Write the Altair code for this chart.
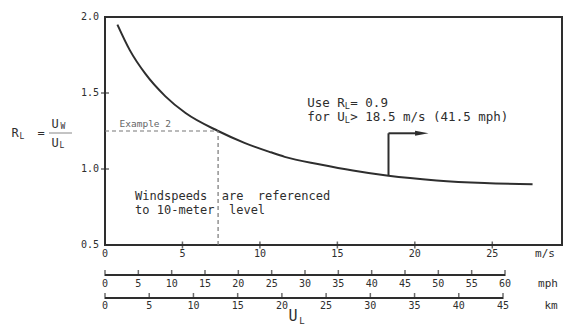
import altair as alt
import pandas as pd

# ---------------- data ----------------
wind_ms = [0.8, 1.6, 2.6, 3.9, 5.2, 7.3, 9.0, 10.7, 11.6, 13.9, 16.0, 18.3, 21.4, 24.5, 27.6]
ratio_rl = [1.95, 1.782, 1.627, 1.478, 1.368, 1.25, 1.172, 1.11, 1.08, 1.03, 0.99, 0.955, 0.925, 0.908, 0.90]

ms_ticks = [0, 5, 10, 15, 20, 25]
rl_ticks = [0.5, 1.0, 1.5, 2.0]
mph_ticks = [0, 5, 10, 15, 20, 25, 30, 35, 40, 45, 50, 55, 60]
km_ticks = [0, 5, 10, 15, 20, 25, 30, 35, 40, 45]

example_ms = 7.3
example_rl = 1.25
cutoff_ms = 18.3
cutoff_rl_base = 0.955
arrow_rl = 1.235
arrow_end_ms = 20.2
arrow_head_ms = 20.45

ms_domain = [0, 29.5]
rl_domain = [0.5, 2.0]
mph_domain = [0, 68.55]
km_domain = [0, 51.67]

mono = "DejaVu Sans Mono"
ink = "#2e2e2e"

xs = alt.Scale(domain=ms_domain, nice=False, zero=False)
ys = alt.Scale(domain=rl_domain, nice=False, zero=False)


def xe(field="u"):
    return alt.X(f"{field}:Q", scale=xs, axis=None)


def ye(field="r"):
    return alt.Y(f"{field}:Q", scale=ys, axis=None)


def label(text, u, r, size, dx=0, dy=0, align="left", color=ink):
    return alt.Chart(pd.DataFrame({"u": [u], "r": [r], "t": [text]})).mark_text(
        font=mono, fontSize=size, dx=dx, dy=dy, align=align, baseline="middle", color=color
    ).encode(x=xe(), y=ye(), text="t:N")


def plabel(text, px, py, size, align="center", color=ink):
    return alt.Chart(pd.DataFrame({"t": [text]})).mark_text(
        font=mono, fontSize=size, align=align, baseline="middle", color=color
    ).encode(x=alt.value(px), y=alt.value(py), text="t:N")


# ---------------- main curve ----------------
curve = alt.Chart(pd.DataFrame({"u": wind_ms, "r": ratio_rl})).mark_line(
    interpolate="monotone", strokeWidth=2, color=ink
).encode(x=xe(), y=ye())

# axis tick labels (drawn from the tick arrays)
xlab = alt.Chart(pd.DataFrame({"u": ms_ticks})).mark_text(
    font=mono, fontSize=10, color=ink, baseline="middle"
).encode(x=xe(), y=alt.value(237), text="u:Q")

ylab = alt.Chart(pd.DataFrame({"r": rl_ticks})).mark_text(
    font=mono, fontSize=10, color=ink, baseline="middle", align="right"
).encode(x=alt.value(-6), y=ye(), text=alt.Text("r:Q", format=".1f"))

ytick = alt.Chart(pd.DataFrame({"u": [0, 0], "r": [1.0, 1.5]})).mark_tick(
    orient="horizontal", size=8, thickness=1.5, color=ink
).encode(x=xe(), y=ye())

xtick = alt.Chart(pd.DataFrame({"u": ms_ticks[1:], "r": [0.5] * 5})).mark_tick(
    orient="vertical", size=7, thickness=1.5, color=ink
).encode(x=xe(), y=ye())

dash_h = alt.Chart(pd.DataFrame({"u": [0], "u2": [example_ms], "r": [example_rl]})).mark_rule(
    strokeDash=[4, 3], strokeWidth=1.2, color="#777777"
).encode(x=xe(), x2="u2:Q", y=ye())

dash_v = alt.Chart(pd.DataFrame({"u": [example_ms], "r": [0.5], "r2": [example_rl]})).mark_rule(
    strokeDash=[4, 3], strokeWidth=1.2, color="#777777"
).encode(x=xe(), y=ye(), y2="r2:Q")

arrow_v = alt.Chart(pd.DataFrame({"u": [cutoff_ms], "r": [cutoff_rl_base], "r2": [arrow_rl]})).mark_rule(
    strokeWidth=2, color=ink
).encode(x=xe(), y=ye(), y2="r2:Q")

arrow_h = alt.Chart(pd.DataFrame({"u": [cutoff_ms], "u2": [arrow_end_ms], "r": [arrow_rl]})).mark_rule(
    strokeWidth=2, color=ink
).encode(x=xe(), x2="u2:Q", y=ye())

arrow_head = alt.Chart(pd.DataFrame({"u": [arrow_head_ms], "r": [arrow_rl]})).mark_point(
    shape="M -1 -0.36 L 1 0 L -1 0.36 Z", size=180, filled=True, opacity=1, color=ink
).encode(x=xe(), y=ye())

ex_label = label("Example 2", 2.6, 1.296, 9.5, align="center", color="#666666")

nb = "\u00a0"
wind1 = label(f"Windspeeds{nb * 2}are{nb * 2}referenced", 1.94, 0.822, 12)
wind2 = label(f"to{nb}10-meter{nb * 2}level", 1.94, 0.728, 12)

cw = 0.602 * 12.5
use1a = label("Use R", 13.05, 1.434, 12.5)
use1b = label("L", 13.05, 1.434, 8.5, dx=5 * cw, dy=3)
use1c = label("= 0.9", 13.05, 1.434, 12.5, dx=5 * cw + 5.5)
use2a = label("for U", 13.05, 1.342, 12.5)
use2b = label("L", 13.05, 1.342, 8.5, dx=5 * cw, dy=3)
use2c = label(" > 18.5 m/s (41.5 mph)", 13.05, 1.342, 12.5, dx=5 * cw + 5.5)

main = alt.layer(curve, xlab, ylab, ytick, xtick, dash_h, dash_v, arrow_v, arrow_h, arrow_head,
                 ex_label, wind1, wind2, use1a, use1b, use1c, use2a, use2b, use2c)

# ---------------- secondary rulers (mph, km) ----------------
mphs = alt.Scale(domain=mph_domain, nice=False, zero=False)
kms = alt.Scale(domain=km_domain, nice=False, zero=False)

mph_line = alt.Chart(pd.DataFrame({"a": [0], "b": [60]})).mark_rule(strokeWidth=2, color=ink).encode(
    x=alt.X("a:Q", scale=mphs, axis=None), x2="b:Q", y=alt.value(258))
mph_tk = alt.Chart(pd.DataFrame({"v": mph_ticks})).mark_tick(orient="vertical", size=6, thickness=1.5, color=ink).encode(
    x=alt.X("v:Q", scale=mphs, axis=None), y=alt.value(256))
mph_lb = alt.Chart(pd.DataFrame({"v": mph_ticks})).mark_text(font=mono, fontSize=10, color=ink, baseline="middle").encode(
    x=alt.X("v:Q", scale=mphs, axis=None), y=alt.value(267), text="v:Q")
mph_layer = alt.layer(mph_line, mph_tk, mph_lb)

km_line = alt.Chart(pd.DataFrame({"a": [0], "b": [45]})).mark_rule(strokeWidth=2, color=ink).encode(
    x=alt.X("a:Q", scale=kms, axis=None), x2="b:Q", y=alt.value(281))
km_tk = alt.Chart(pd.DataFrame({"v": km_ticks})).mark_tick(orient="vertical", size=6, thickness=1.5, color=ink).encode(
    x=alt.X("v:Q", scale=kms, axis=None), y=alt.value(279))
km_lb = alt.Chart(pd.DataFrame({"v": km_ticks})).mark_text(font=mono, fontSize=10, color=ink, baseline="middle").encode(
    x=alt.X("v:Q", scale=kms, axis=None), y=alt.value(289), text="v:Q")
km_layer = alt.layer(km_line, km_tk, km_lb)

# ---------------- outside labels ----------------
unit_ms = plabel("m/s", 440, 237, 11)
unit_mph = plabel("mph", 443, 267, 11)
unit_km = plabel("km", 446, 289, 11)
ul_u = plabel("U", 188, 299, 15)
ul_l = plabel("L", 197, 304, 9)

yt_r = plabel("R", -90, 116, 12)
yt_rl = plabel("L", -83, 120, 8)
yt_eq = plabel("=", -64, 116, 12)
yt_uw = plabel("U", -50, 107, 12)
yt_uws = plabel("W", -42, 110, 8)
yt_ul = plabel("U", -50, 126, 12)
yt_uls = plabel("L", -43, 129, 8)
yt_bar = alt.Chart(pd.DataFrame({"t": [0]})).mark_rule(strokeWidth=1, color="#888888").encode(
    x=alt.value(-56), x2=alt.value(-33), y=alt.value(116))

outside = alt.layer(unit_ms, unit_mph, unit_km, ul_u, ul_l,
                    yt_r, yt_rl, yt_eq, yt_uw, yt_uws, yt_ul, yt_uls, yt_bar)

chart = alt.layer(main, mph_layer, km_layer, outside).resolve_scale(x="independent").properties(
    width=457, height=228,
    padding={"left": 97, "top": 9, "right": 2, "bottom": 80},
    autosize=alt.AutoSizeParams(type="none"),
    background="white",
).configure_view(stroke=ink, strokeWidth=2)

chart.save("out.html", embed_options={"renderer": "svg", "actions": False})
